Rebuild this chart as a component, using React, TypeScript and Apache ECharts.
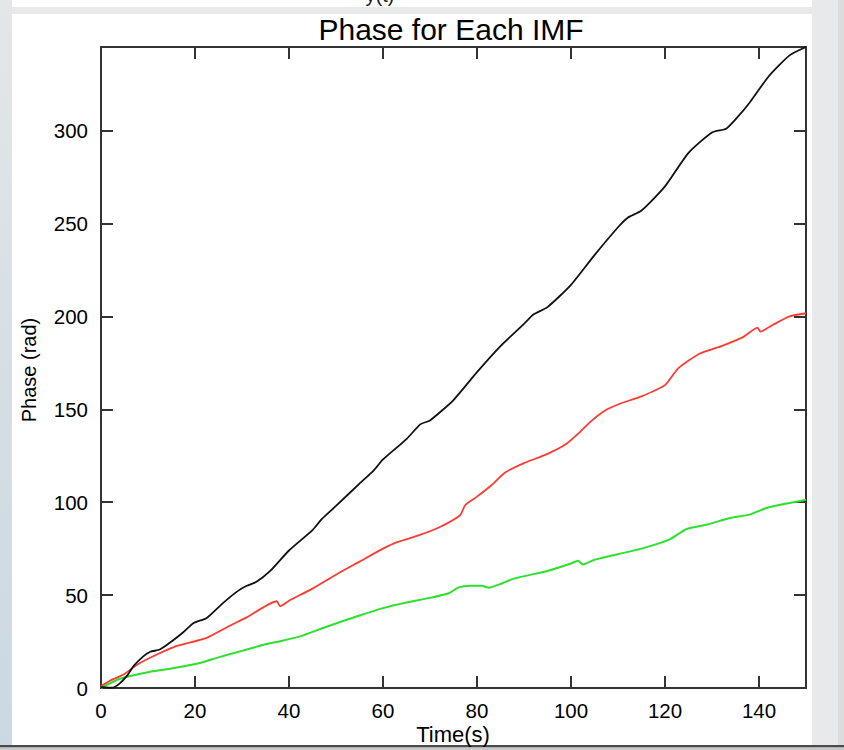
import { useEffect, useRef } from "react";
import * as echarts from "echarts";

// Titles and axis names
const TITLE = "Phase for Each IMF";
const X_NAME = "Time(s)";
const Y_NAME = "Phase (rad)";
const CLIPPED_HEADER = "y(t)";

// Axis settings
const X_MIN = 0;
const X_MAX = 150;
const X_STEP = 20;
const Y_MIN = 0;
const Y_MAX = 345;
const Y_STEP = 50;

// IMF 1 (black): time (s) and phase (rad)
const imf1Time = [0, 2.5, 4, 5.5, 7, 9, 10.5, 12.5, 15, 17.5, 19.7, 22.5, 26, 29, 31, 33, 36, 40, 45, 47, 50, 55, 58, 60, 65, 68, 70, 75, 80, 85, 90, 92, 95, 100, 105, 110, 112, 115, 120, 125, 130, 133, 135, 138, 142, 146.5, 150];
const imf1Phase = [0.5, 0.2, 2.5, 6.5, 12, 17, 19.5, 20.7, 25, 30, 35, 37.7, 45.8, 52, 55, 57, 63, 74, 85, 91, 98, 110, 117, 123, 134, 142, 144, 155, 170, 184, 196, 201, 205, 217, 233, 248, 253, 257, 270, 288, 299, 301, 306, 315, 329, 340.5, 345];

// IMF 2 (red)
const imf2Time = [0, 2, 4.8, 8, 11.9, 16, 22.5, 27, 31, 37.4, 38.1, 40, 45, 50, 55, 60, 63, 68, 72, 76.4, 77.5, 80, 83, 86, 90, 95, 98.8, 102, 104, 107, 110.4, 115, 120, 122.8, 127.4, 132, 136.5, 139.7, 140.3, 143, 146.5, 150];
const imf2Phase = [1, 4, 7.3, 13, 18, 22.5, 27, 33, 38, 46.7, 44, 47, 53.5, 61, 68, 75, 78.5, 82.5, 86.5, 93, 98.5, 103, 109, 116, 121, 126, 131, 138, 143, 149, 153, 157, 163, 172, 180, 184, 188.7, 194, 191.8, 195.5, 200, 201.7];

// IMF 3 (green)
const imf3Time = [0, 4, 10, 15, 21.1, 25, 30, 35, 38.1, 42, 48, 55, 60, 65, 70, 74, 76, 78.5, 81, 82.5, 85, 88, 95, 100, 101.5, 102.5, 105, 110, 115, 121, 124.6, 129, 133.8, 138, 141.6, 146.5, 150];
const imf3Phase = [0, 5, 8.5, 10.5, 13.5, 16.5, 20, 23.5, 25.2, 27.5, 33, 39, 43, 46, 48.5, 51, 54, 55, 55, 54, 56, 59, 63, 67, 68.5, 66.5, 69, 72, 75, 80, 85.6, 88, 91.5, 93.3, 96.9, 99.6, 101.3];

const pairs = (t: number[], v: number[]) => t.map((x, i) => [x, v[i]]);

const AXIS_COLOR = "#333333";
const FONT = "'Liberation Sans', Arial, Helvetica, sans-serif";

export default function App() {
  const ref = useRef<HTMLDivElement | null>(null);

  useEffect(() => {
    if (!ref.current) return;
    const chart = echarts.init(ref.current, undefined, { renderer: "svg" });

    const axisLine = () => ({ show: true, onZero: false, lineStyle: { color: AXIS_COLOR, width: 2 } });
    const axisTick = () => ({ show: true, inside: true, length: 12, lineStyle: { color: AXIS_COLOR, width: 2 } });

    const xBase = () => ({ type: "value" as const, min: X_MIN, max: X_MAX, interval: X_STEP, axisLine: axisLine(), axisTick: axisTick(), splitLine: { show: false } });
    const yBase = () => ({ type: "value" as const, min: Y_MIN, max: Y_MAX, interval: Y_STEP, axisLine: axisLine(), axisTick: axisTick(), splitLine: { show: false } });

    const lineSeries = (name: string, data: number[][], color: string, width: number) => ({
      name,
      type: "line" as const,
      data,
      showSymbol: false,
      symbol: "none",
      smooth: 0.2,
      lineStyle: { color, width },
      xAxisIndex: 0,
      yAxisIndex: 0,
      z: 3,
    });

    chart.setOption({
      animation: false,
      backgroundColor: "#e8e9ea",
      textStyle: { fontFamily: FONT },
      graphic: [
        // page frame around the figure
        {
          type: "rect", z: -10, silent: true,
          shape: { x: 0, y: 0, width: 12, height: 745 },
          style: {
            fill: new echarts.graphic.LinearGradient(0, 0, 0, 1, [
              { offset: 0, color: "#e4e7e8" },
              { offset: 0.5, color: "#d6dee4" },
              { offset: 1, color: "#cbd8e2" },
            ]),
          },
        },
        { type: "rect", z: -10, silent: true, shape: { x: 12, y: 0, width: 800, height: 7 }, style: { fill: "#ffffff" } },
        { type: "rect", z: -10, silent: true, shape: { x: 12, y: 14, width: 800, height: 731 }, style: { fill: "#ffffff" } },
        { type: "rect", z: -10, silent: true, shape: { x: 838, y: 0, width: 6, height: 745 }, style: { fill: "#dcdcdc" } },
        { type: "rect", z: -10, silent: true, shape: { x: 0, y: 745, width: 844, height: 2.5 }, style: { fill: "#4a4a4a" } },
        { type: "rect", z: -10, silent: true, shape: { x: 0, y: 747.5, width: 844, height: 2.5 }, style: { fill: "#c8c8c8" } },
        {
          type: "group", z: -5, silent: true,
          clipPath: { type: "rect", shape: { x: 12, y: 0, width: 800, height: 7 } } as any,
          children: [
            {
              type: "text", x: 380, y: 5,
              style: { text: CLIPPED_HEADER, font: `20px ${FONT}`, fill: "#222", textAlign: "center", textVerticalAlign: "bottom" },
            },
          ],
        } as any,
        {
          type: "text", x: 451, y: 29, z: 10,
          style: { text: TITLE, font: `30px ${FONT}`, fill: "#000", textAlign: "center", textVerticalAlign: "middle" },
        },
        {
          type: "text", x: 453, y: 734, z: 10,
          style: { text: X_NAME, font: `22px ${FONT}`, fill: "#000", textAlign: "center", textVerticalAlign: "middle" },
        },
        {
          type: "text", x: 29, y: 370, rotation: Math.PI / 2, z: 10,
          style: { text: Y_NAME, font: `20px ${FONT}`, fill: "#000", textAlign: "center", textVerticalAlign: "middle" },
        },
      ],
      grid: { left: 101, right: 38, top: 47, bottom: 62, containLabel: false },
      xAxis: [
        {
          ...xBase(),
          position: "bottom",
          axisLabel: { show: true, color: "#000", fontSize: 20.5, fontFamily: FONT, margin: 12, showMaxLabel: false },
        },
        { ...xBase(), position: "top", axisLabel: { show: false } },
      ],
      yAxis: [
        {
          ...yBase(),
          position: "left",
          axisLabel: { show: true, color: "#000", fontSize: 20.5, fontFamily: FONT, margin: 13, showMaxLabel: false },
        },
        { ...yBase(), position: "right", axisLabel: { show: false } },
      ],
      series: [
        lineSeries("IMF 3", pairs(imf3Time, imf3Phase), "#2ee02e", 2),
        lineSeries("IMF 2", pairs(imf2Time, imf2Phase), "#ff3a30", 1.8),
        lineSeries("IMF 1", pairs(imf1Time, imf1Phase), "#111111", 1.8),
      ],
    });

    return () => chart.dispose();
  }, []);

  return <div ref={ref} style={{ position: "absolute", left: 0, top: 0, width: 844, height: 750 }} />;
}
